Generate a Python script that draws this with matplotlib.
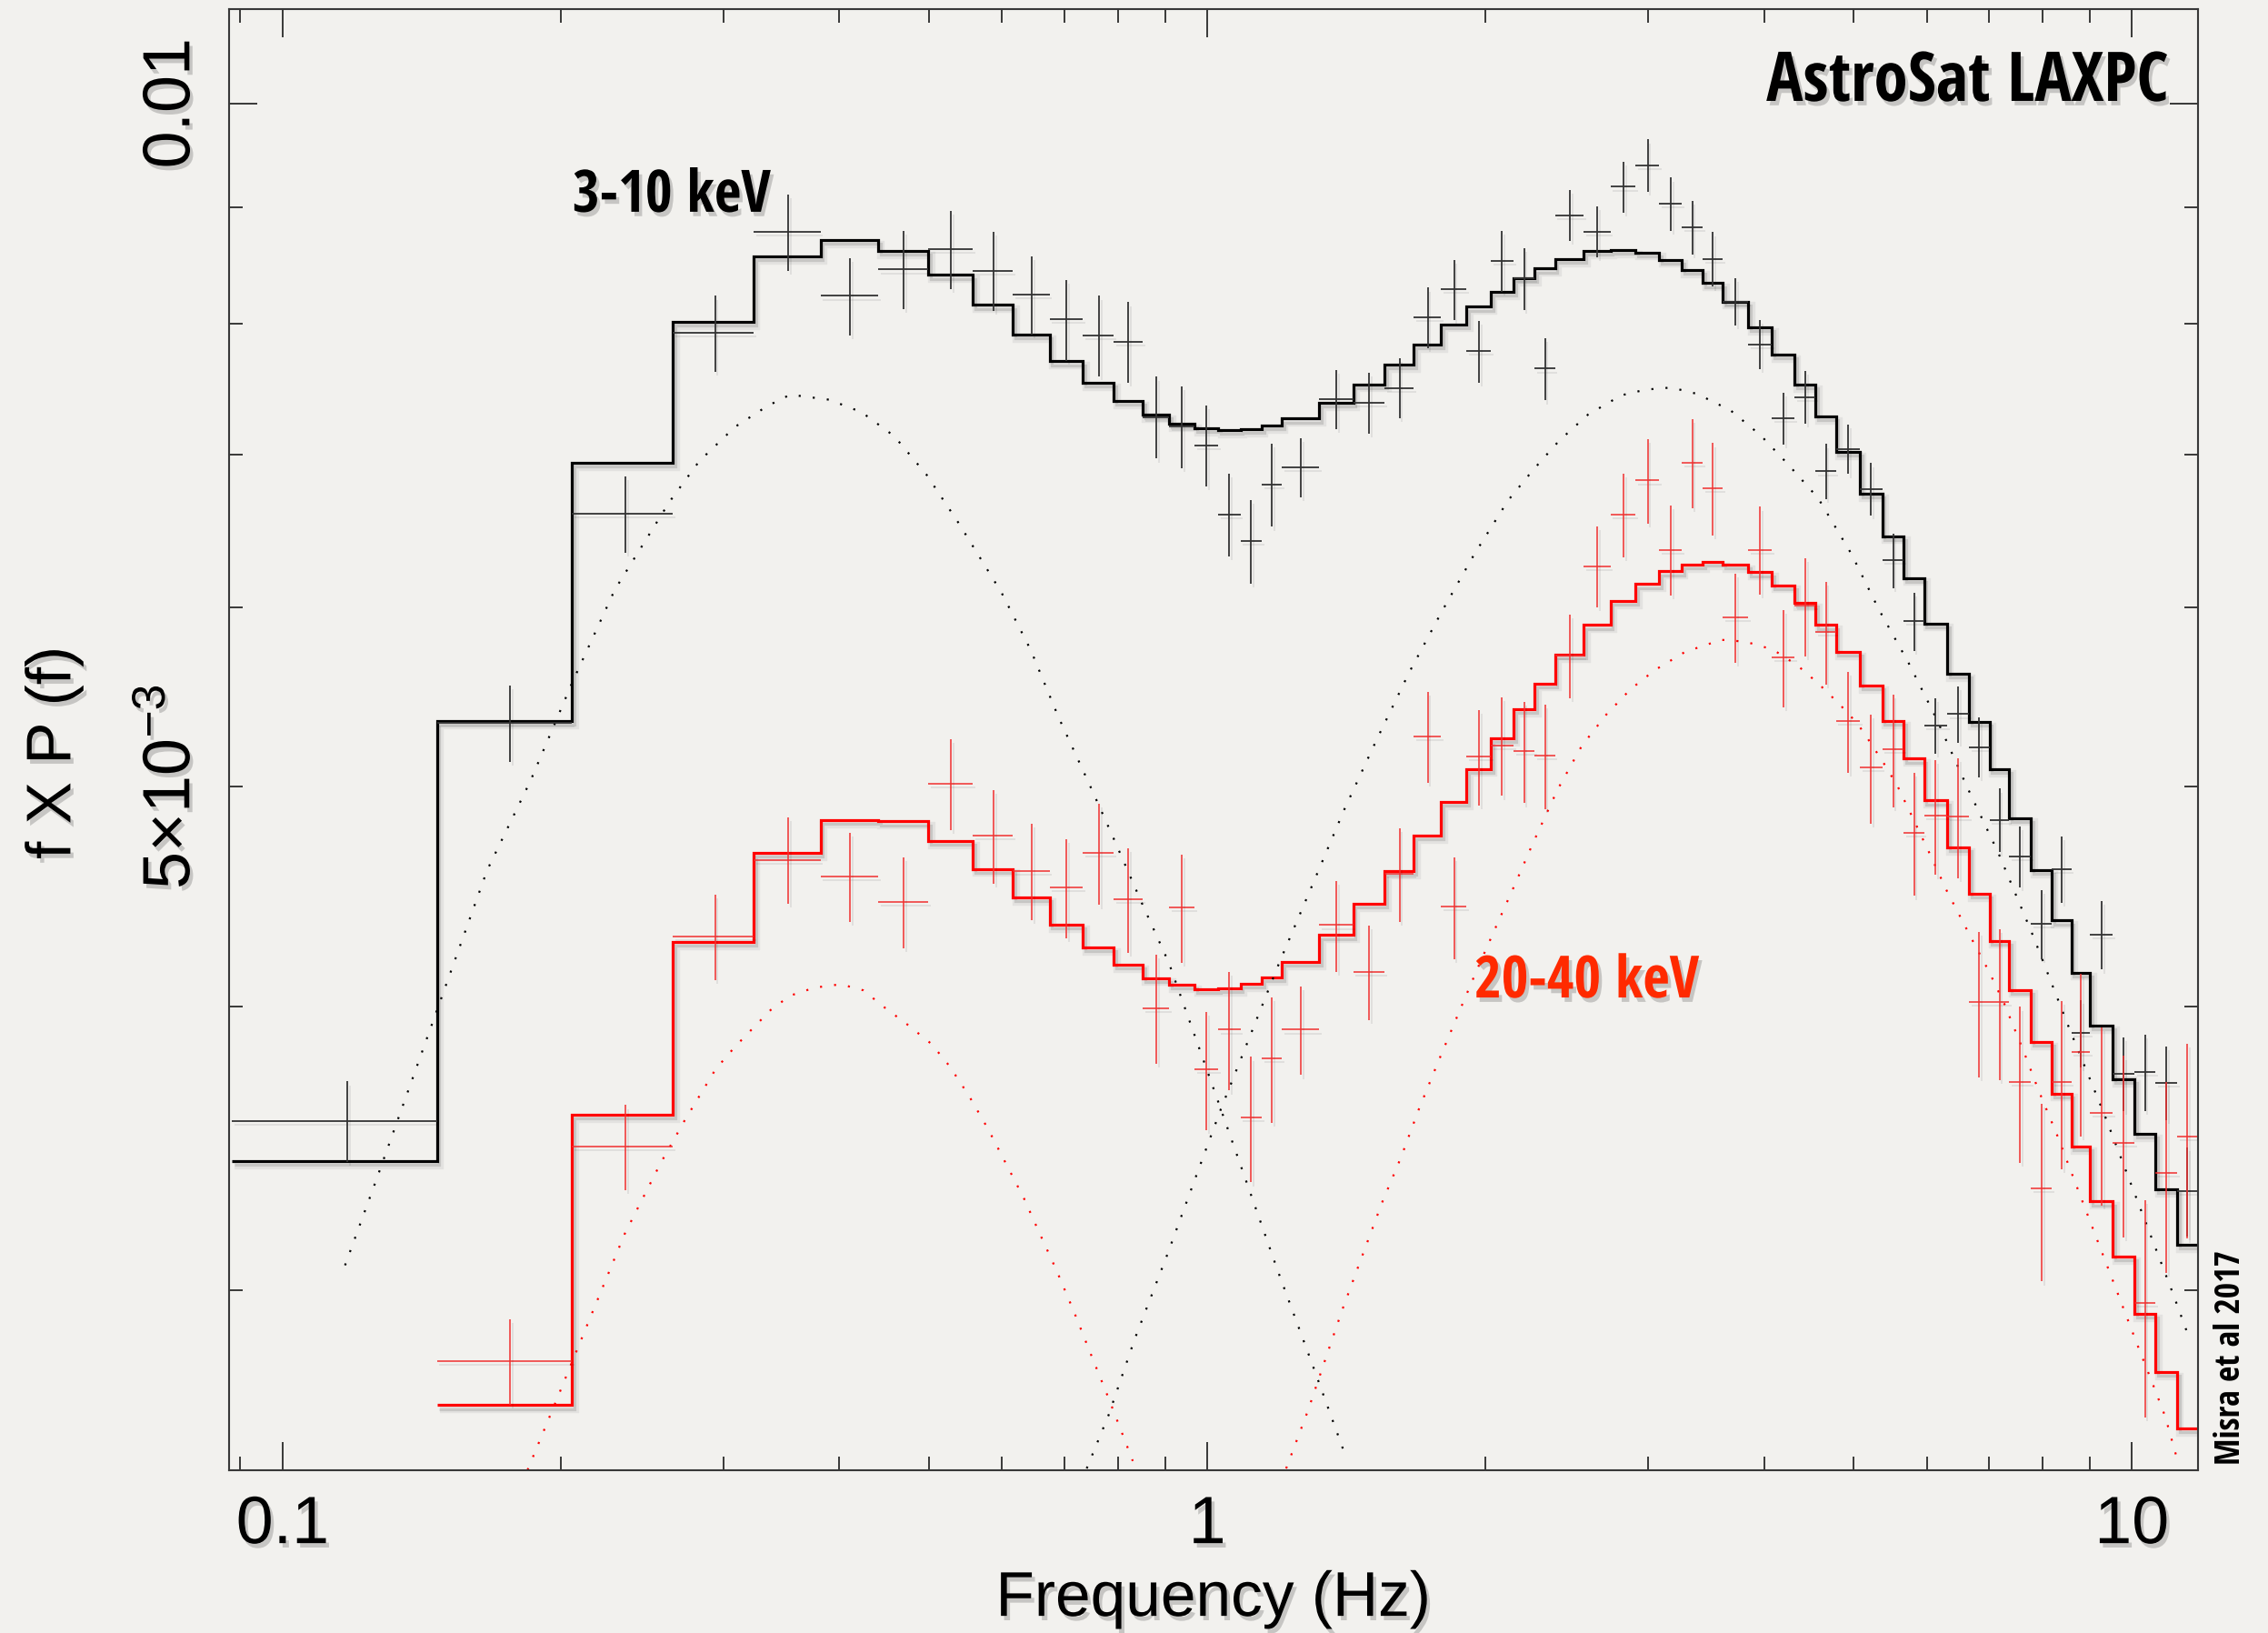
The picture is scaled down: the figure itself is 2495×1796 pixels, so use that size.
import numpy as np
import matplotlib
matplotlib.use("Agg")
import matplotlib.pyplot as plt
import matplotlib.patheffects as pe
from matplotlib import font_manager
from matplotlib.font_manager import FontProperties
from matplotlib.ticker import LogLocator, NullFormatter

# frequency bin edges of the rebinned power spectra (Hz)
bin_edges = [0.0881, 0.1468, 0.2055, 0.2642, 0.3229, 0.3816, 0.4403, 0.4990, 0.5577, 0.6164,
             0.6751, 0.7338, 0.7925, 0.8512, 0.9099, 0.9686, 1.0273, 1.0860, 1.1447, 1.2034,
             1.3208, 1.4382, 1.5556, 1.6730, 1.7904, 1.9078, 2.0252, 2.1426, 2.2600, 2.3774,
             2.5535, 2.7296, 2.9057, 3.0818, 3.2579, 3.4340, 3.6101,
             3.8449, 4.0797, 4.3145, 4.5493, 4.7841,
             5.0776, 5.3711, 5.6646, 5.9581,
             6.3103, 6.6625, 7.0147, 7.3669,
             7.7778, 8.1887, 8.5996, 9.0105,
             9.54, 10.06, 10.60, 11.19, 11.78]

# 3-10 keV: f x P(f) per bin, 1-sigma errors and best-fit model (units of 1e-3)
soft_data = [3.564, 5.335, 6.595, 7.922, 8.778, 8.226, 8.449, 8.623, 8.439, 8.235,
             8.033, 7.905, 7.854, 7.276, 7.207, 7.071, 6.592, 6.414, 6.795, 6.914,
             7.410, 7.380, 7.493, 8.049, 8.281, 7.779, 8.524, 8.373, 7.641, 8.927,
             8.781, 9.189, 9.391, 9.031, 8.818, 8.538, 8.179, 7.832, 7.266, 7.425,
             6.885, 7.043, 6.764, 6.291, 5.914, 5.320, 5.383, 5.206, 4.835, 4.659,
             4.351, 4.599, 3.895, 4.304, 3.739, 3.744, 3.704, 3.319]
soft_err = [0.145, 0.207, 0.255, 0.304, 0.342, 0.322, 0.335, 0.342, 0.338, 0.327,
            0.330, 0.321, 0.319, 0.302, 0.299, 0.290, 0.277, 0.272, 0.286, 0.208,
            0.221, 0.227, 0.228, 0.245, 0.252, 0.244, 0.262, 0.262, 0.242, 0.229,
            0.227, 0.236, 0.249, 0.242, 0.241, 0.236, 0.196, 0.197, 0.192, 0.197,
            0.193, 0.177, 0.178, 0.174, 0.173, 0.150, 0.154, 0.158, 0.156, 0.144,
            0.151, 0.155, 0.133, 0.150, 0.140, 0.145, 0.138, 0.150]
soft_model = [3.420, 5.345, 6.943, 8.013, 8.560, 8.703, 8.611, 8.402, 8.150, 7.911,
              7.698, 7.531, 7.396, 7.291, 7.226, 7.193, 7.179, 7.184, 7.212, 7.263,
              7.381, 7.521, 7.673, 7.832, 7.993, 8.135, 8.259, 8.373, 8.457, 8.538,
              8.607, 8.620, 8.597, 8.534, 8.444, 8.333, 8.179, 7.970, 7.751, 7.516,
              7.281, 7.024, 6.730, 6.448, 6.180, 5.902, 5.609, 5.341, 5.090, 4.845,
              4.595, 4.366, 4.142, 3.924, 3.717, 3.516, 3.325, 3.143]

# 20-40 keV starts at the second bin
hard_data = [2.794, 3.471, 4.296, 4.644, 4.567, 4.450, 5.017, 4.758, 4.591,
             4.515, 4.676, 4.463, 3.996, 4.426, 3.756, 3.909, 3.575, 3.797, 3.909,
             4.346, 4.146, 4.577, 5.264, 4.428, 5.156, 5.214, 5.184, 5.162, 5.711,
             6.255, 6.589, 6.822, 6.359, 6.946, 6.768, 5.939, 6.359, 5.700, 6.008,
             5.850, 5.345, 5.100, 5.194, 4.773, 4.855, 4.851, 4.019, 4.021, 3.708,
             3.327, 3.708, 3.822, 3.594, 3.486, 2.963, 3.380, 3.507]
hard_err = [0.121, 0.150, 0.186, 0.204, 0.206, 0.204, 0.232, 0.227, 0.224,
            0.227, 0.241, 0.237, 0.221, 0.243, 0.225, 0.234, 0.227, 0.241, 0.176,
            0.200, 0.199, 0.218, 0.242, 0.228, 0.250, 0.260, 0.266, 0.273, 0.242,
            0.258, 0.279, 0.293, 0.290, 0.313, 0.317, 0.267, 0.283, 0.282, 0.299,
            0.304, 0.272, 0.282, 0.295, 0.297, 0.283, 0.295, 0.296, 0.308, 0.292,
            0.299, 0.316, 0.314, 0.325, 0.320, 0.325, 0.326, 0.345]
hard_model = [2.671, 3.585, 4.271, 4.676, 4.834, 4.828, 4.733, 4.601, 4.470,
              4.349, 4.249, 4.175, 4.119, 4.090, 4.074, 4.077, 4.095, 4.122, 4.186,
              4.302, 4.441, 4.591, 4.758, 4.924, 5.092, 5.253, 5.408, 5.553, 5.717,
              5.892, 6.037, 6.141, 6.221, 6.264, 6.281, 6.264, 6.215, 6.135, 6.027,
              5.892, 5.734, 5.540, 5.346, 5.145, 4.931, 4.702, 4.486, 4.278, 4.070,
              3.860, 3.664, 3.471, 3.284, 3.105, 2.930, 2.762, 2.608]

# Lorentzian components of the two fits (Hz, units of 1e-3)
soft_lor1_f = [0.1168, 0.1260, 0.1466, 0.1664, 0.1854, 0.2059, 0.2287, 0.2623, 0.2822, 0.3085,
               0.3344, 0.3539, 0.3900, 0.4228, 0.4585, 0.4971, 0.5389, 0.5991, 0.6444, 0.6904,
               0.7454, 0.7918, 0.8517, 0.9087, 0.9695, 1.0343, 1.1032, 1.1908, 1.2985, 1.4154]
soft_lor1_p = [3.078, 3.349, 3.979, 4.595, 5.032, 5.564, 6.107, 6.680, 6.957, 7.203,
               7.357, 7.442, 7.404, 7.311, 7.136, 6.861, 6.529, 6.088, 5.743, 5.366,
               5.014, 4.746, 4.434, 4.183, 3.884, 3.606, 3.347, 3.064, 2.785, 2.528]
soft_lor2_f = [0.7406, 0.7820, 0.8343, 0.9050, 0.9695, 1.0343, 1.1123, 1.1962, 1.2974, 1.4064,
               1.5250, 1.6532, 1.7925, 1.9433, 2.1155, 2.2529, 2.4021, 2.5806, 2.8035, 2.9785,
               3.1752, 3.3862, 3.6796, 3.9676, 4.2464, 4.5786, 4.9766, 5.3253, 5.7416, 6.1448,
               6.6283, 7.1753, 7.8254, 8.5035, 9.3435, 10.229, 11.073, 11.455]
soft_lor2_p = [2.505, 2.644, 2.855, 3.111, 3.358, 3.606, 3.884, 4.183, 4.521, 4.886,
               5.246, 5.615, 5.971, 6.328, 6.686, 6.898, 7.103, 7.293, 7.437, 7.480,
               7.496, 7.448, 7.325, 7.141, 6.935, 6.700, 6.329, 5.985, 5.664, 5.359,
               5.003, 4.673, 4.295, 3.938, 3.584, 3.255, 2.992, 2.881]
hard_lor1_f = [0.1840, 0.1977, 0.2153, 0.2344, 0.2562, 0.2721, 0.2939, 0.3085, 0.3226, 0.3372,
               0.3539, 0.3761, 0.4013, 0.4245, 0.4493, 0.4717, 0.5030, 0.5260, 0.5522, 0.5796,
               0.6060, 0.6335, 0.6578, 0.6868, 0.7171, 0.7487, 0.7820, 0.8163, 0.8306]
hard_lor1_p = [2.501, 2.684, 2.922, 3.178, 3.413, 3.565, 3.755, 3.842, 3.915, 3.988,
               4.046, 4.079, 4.093, 4.068, 3.993, 3.935, 3.853, 3.768, 3.656, 3.533,
               3.411, 3.294, 3.183, 3.063, 2.938, 2.811, 2.690, 2.571, 2.524]
hard_lor2_f = [1.2170, 1.2843, 1.3409, 1.4003, 1.4697, 1.5448, 1.6204, 1.6936, 1.7779, 1.8664,
               1.9590, 2.0564, 2.1529, 2.2529, 2.3929, 2.5416, 2.6996, 2.8685, 3.0468, 3.2855,
               3.5960, 3.8200, 4.0897, 4.3436, 4.5786, 4.8279, 5.0515, 5.2261, 5.4152, 5.5808,
               5.7847, 6.0308, 6.3110, 6.7297, 7.0146, 7.2849, 7.6501, 7.9144, 8.3112, 8.5982,
               8.8948, 9.2024, 9.5202, 9.8493, 10.190, 10.504, 10.866, 11.198]
hard_lor2_p = [2.505, 2.655, 2.796, 2.944, 3.105, 3.279, 3.435, 3.606, 3.785, 3.968,
               4.157, 4.347, 4.532, 4.728, 4.987, 5.213, 5.379, 5.520, 5.628, 5.733,
               5.804, 5.793, 5.747, 5.657, 5.553, 5.437, 5.330, 5.222, 5.106, 5.002,
               4.852, 4.681, 4.497, 4.276, 4.142, 4.009, 3.817, 3.681, 3.508, 3.383,
               3.263, 3.147, 3.036, 2.928, 2.824, 2.737, 2.640, 2.527]

x_ticks = [0.1, 1, 10]
x_tick_labels = ["0.1", "1", "10"]
y_minor = [0.003, 0.004, 0.005, 0.006, 0.007, 0.008, 0.009]
y_minor_labels = ["", "", r"$\mathregular{5{\times}10^{-3}}$", "", "", "", ""]

BG = "#f2f1ee"
RED = "#ff0000"
FRAME = "#383838"
SCALE = 1e-3


def condensed_bold():
    """Bold condensed face for the annotations, if one is installed."""
    def weight(f):
        if isinstance(f.weight, (int, float)):
            return f.weight
        return font_manager.weight_dict.get(f.weight, 400)

    found = [f for f in font_manager.fontManager.ttflist
             if weight(f) >= 600 and f.style == "normal"
             and (f.stretch in ("condensed", "semi-condensed", "extra-condensed")
                  or "Narrow" in f.name or "Condensed" in f.name)]
    order = ["Liberation Sans Narrow", "Open Sans Condensed", "Open Sans", "Roboto Condensed",
             "Noto Sans", "DejaVu Sans"]
    found.sort(key=lambda f: order.index(f.name) if f.name in order else len(order))
    if found:
        return FontProperties(fname=found[0].fname)
    return FontProperties(family="Liberation Sans", weight="bold")


plt.rcParams["font.family"] = ["Liberation Sans", "DejaVu Sans"]
plt.rcParams["mathtext.fontset"] = "custom"
plt.rcParams["mathtext.rm"] = "Liberation Sans"
plt.rcParams["mathtext.it"] = "Liberation Sans:italic"
plt.rcParams["mathtext.bf"] = "Liberation Sans:bold"

line_shadow = [pe.SimpleLineShadow(offset=(2.5, -3.5), shadow_color="black", alpha=0.06, linewidth=6),
               pe.SimpleLineShadow(offset=(2, -3), shadow_color="black", alpha=0.12),
               pe.Normal()]
thin_shadow = [pe.SimpleLineShadow(offset=(2, -3), shadow_color="black", alpha=0.08), pe.Normal()]
text_shadow = [pe.withSimplePatchShadow(offset=(2.5, -3.5), shadow_rgbFace="black", alpha=0.18)]

fig = plt.figure(figsize=(24.95, 17.96), dpi=100, facecolor=BG)
ax = fig.add_axes([0.1012, 0.0998, 0.8678, 0.8945], facecolor=BG)
ax.set_xscale("log")
ax.set_yscale("log")

edges = np.array(bin_edges)
centres = 0.5 * (edges[1:] + edges[:-1])
half_w = 0.5 * np.diff(edges)

# dotted Lorentzian components
dots = (0, (1, 6))
ax.plot(soft_lor1_f, np.array(soft_lor1_p) * SCALE, color="black", lw=1.6, ls=dots)
ax.plot(soft_lor2_f, np.array(soft_lor2_p) * SCALE, color="black", lw=1.6, ls=dots)
ax.plot(hard_lor1_f, np.array(hard_lor1_p) * SCALE, color=RED, lw=1.6, ls=dots)
ax.plot(hard_lor2_f, np.array(hard_lor2_p) * SCALE, color=RED, lw=1.6, ls=dots)

# total model as histogram steps
ax.stairs(np.array(soft_model) * SCALE, edges, baseline=None, color="black", lw=2.3,
          path_effects=line_shadow)
ax.stairs(np.array(hard_model) * SCALE, edges[1:], baseline=None, color=RED, lw=2.3,
          path_effects=line_shadow)

# data crosses
eb1 = ax.errorbar(centres, np.array(soft_data) * SCALE, xerr=half_w,
                  yerr=np.array(soft_err) * SCALE, fmt="none", ecolor="#333333",
                  elinewidth=1.3, capsize=0)
eb2 = ax.errorbar(centres[1:], np.array(hard_data) * SCALE, xerr=half_w[1:],
                  yerr=np.array(hard_err) * SCALE, fmt="none", ecolor="#f03030",
                  elinewidth=1.3, capsize=0, alpha=0.85)
for eb in (eb1, eb2):
    for coll in eb.lines[2]:
        coll.set_path_effects(thin_shadow)

ax.set_xlim(0.0876, 11.78)
ax.set_ylim(2.501e-3, 1.1e-2)

ax.set_xticks(x_ticks, labels=x_tick_labels)
ax.xaxis.set_minor_locator(LogLocator(base=10, subs=np.arange(2, 10)))
ax.xaxis.set_minor_formatter(NullFormatter())
ax.set_yticks([0.01], labels=["0.01"], rotation=90, va="center")
ax.set_yticks(y_minor, labels=y_minor_labels, minor=True, rotation=90, va="center")

ax.tick_params(which="both", direction="in", top=True, right=True,
               color=FRAME, width=1.4, labelcolor="black")
ax.tick_params(which="major", length=22)
ax.tick_params(which="minor", length=11)
ax.tick_params(axis="x", which="major", pad=19, labelsize=53)
ax.tick_params(axis="y", which="both", pad=21, labelsize=53)
for sp in ax.spines.values():
    sp.set_color(FRAME)
    sp.set_linewidth(1.5)

for lbl in ax.get_xticklabels() + ax.get_yticklabels() + ax.get_yticklabels(minor=True):
    lbl.set_path_effects(text_shadow)

ax.set_xlabel("Frequency (Hz)", fontsize=50, path_effects=text_shadow)
ax.set_ylabel("f X P (f)", fontsize=50, path_effects=text_shadow)
ax.xaxis.set_label_coords(0.5, -0.0687)
ax.yaxis.set_label_coords(-0.0744, 0.491)

# annotations in a bold condensed face, sized to their printed length (px)
bold_font = condensed_bold()
notes = [
    (ax.text(0.1743, 0.8614, "3-10 keV", transform=ax.transAxes, ha="left", va="baseline",
             fontproperties=bold_font, fontsize=46, color="black", path_effects=text_shadow), 218),
    (ax.text(0.6325, 0.3235, "20-40 keV", transform=ax.transAxes, ha="left", va="baseline",
             fontproperties=bold_font, fontsize=46, color="#ff2a00", path_effects=text_shadow), 247),
    (ax.text(0.985, 0.9373, "AstroSat LAXPC", transform=ax.transAxes, ha="right", va="baseline",
             fontproperties=bold_font, fontsize=53, color="black", path_effects=text_shadow), 442),
    (fig.text(0.9834, 0.1687, "Misra et al 2017", rotation=90, ha="center", va="center",
              fontproperties=bold_font, fontsize=27, color="black"), 236),
]
fig.canvas.draw()
renderer = fig.canvas.get_renderer()
for txt, length in notes:
    box = txt.get_window_extent(renderer)
    size = box.height if txt.get_rotation() == 90 else box.width
    txt.set_fontsize(txt.get_fontsize() * length / size)

fig.savefig("out.png", dpi=100, facecolor=BG)
